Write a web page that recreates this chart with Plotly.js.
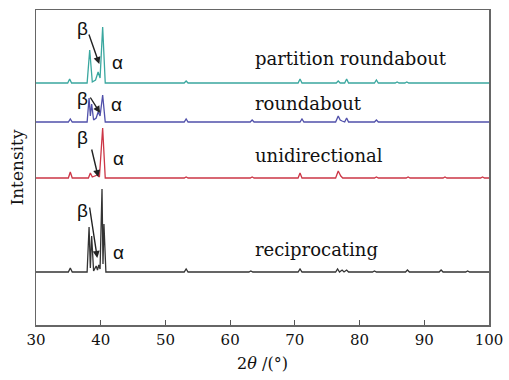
<!DOCTYPE html>
<html>
<head>
<meta charset="utf-8">
<script src="https://cdn.plot.ly/plotly-3.0.1.min.js"></script>
<style>html,body{margin:0;padding:0;background:#fff;}#chart{width:509px;height:380px;}</style>
</head>
<body>
<div id="chart"></div>
<script>
// Series names and vertical offsets (stacking baselines, arbitrary intensity units)
const seriesNames = ["partition roundabout", "roundabout", "unidirectional", "reciprocating"];
const seriesColors = ["#3aa79f", "#5050aa", "#cc3646", "#333333"];
const offsets = [242, 203, 147, 53];

// 2θ (degrees) and relative intensity
const xPartition = [30, 34.9, 35.2, 35.5, 37.9, 38.3, 38.7, 39.2, 39.6, 39.9, 40.3, 40.7, 52.9, 53.2, 53.5, 70.5, 70.8, 71.1, 76.4, 76.7, 77.0, 77.7, 78.0, 78.3, 82.3, 82.6, 82.9, 85.5, 85.8, 86.1, 87.0, 87.3, 87.6, 100];
const yPartition = [0, 0, 4, 0, 0, 33, 1, 3, 11, 5, 56, 0, 0, 2, 0, 0, 4, 0, 0, 2, 0, 0, 4, 0, 0, 3, 0, 0, 1, 0, 0, 1, 0, 0];

const xRoundabout = [30, 35.0, 35.3, 35.6, 37.9, 38.2, 38.4, 38.6, 38.9, 39.3, 39.6, 39.9, 40.3, 40.7, 52.9, 53.2, 53.5, 63.1, 63.4, 63.7, 70.8, 71.1, 71.4, 76.3, 76.7, 77.0, 77.3, 77.7, 78.0, 78.3, 82.3, 82.6, 82.9, 100];
const yRoundabout = [0, 0, 3, 0, 0, 24, 6, 18, 2, 4, 10, 6, 27, 0, 0, 3, 0, 0, 2, 0, 0, 3, 0, 0, 6, 2, 1, 0, 4, 0, 0, 2, 0, 0];

const xUnidirectional = [30, 35.0, 35.3, 35.6, 38.1, 38.4, 38.7, 39.2, 39.5, 39.8, 40.3, 40.7, 52.9, 53.2, 53.5, 63.1, 63.4, 63.7, 70.5, 70.8, 71.1, 76.3, 76.7, 77.1, 77.4, 82.3, 82.6, 82.9, 87.2, 87.5, 87.8, 92.9, 93.2, 93.5, 98.7, 99.0, 99.3, 100];
const yUnidirectional = [0, 0, 6, 0, 0, 5, 1, 2, 3, 1, 50, 0, 0, 1, 0, 0, 1, 0, 0, 5, 0, 0, 7, 2, 0, 0, 1, 0, 0, 1, 0, 0, 1, 0, 0, 1, 0, 0];

const xReciprocating = [30, 35.0, 35.3, 35.6, 37.9, 38.2, 38.4, 38.6, 38.9, 39.3, 39.5, 39.7, 39.9, 40.2, 40.35, 40.5, 40.8, 52.9, 53.2, 53.5, 62.9, 63.2, 63.5, 70.5, 70.8, 71.1, 76.3, 76.6, 76.9, 77.3, 77.6, 78.0, 78.3, 82.0, 82.3, 82.6, 87.1, 87.4, 87.7, 92.3, 92.6, 92.9, 96.4, 96.7, 97.0, 100];
const yReciprocating = [0, 0, 4, 0, 0, 45, 4, 36, 1, 6, 2, 7, 3, 83, 8, 48, 0, 0, 3, 0, 0, 1, 0, 0, 3, 0, 0, 3, 0, 2, 0, 2, 0, 0, 1, 0, 0, 2, 0, 0, 2, 0, 0, 1, 0, 0];

const xTickVals = [30, 40, 50, 60, 70, 80, 90, 100];

const xs = [xPartition, xRoundabout, xUnidirectional, xReciprocating];
const ys = [yPartition, yRoundabout, yUnidirectional, yReciprocating];

const traces = seriesNames.map((name, i) => ({
  type: 'scatter',
  mode: 'lines',
  name: name,
  x: xs[i],
  y: ys[i].map(v => v + offsets[i]),
  line: {color: seriesColors[i], width: 1.3},
  hoverinfo: 'x+name'
}));

const serif = 'DejaVu Serif, Liberation Serif, serif';
const sans = 'Liberation Sans, Arial, sans-serif';

// label y positions (data units) and arrows
const labelY = [267, 222, 170, 76];
const betaY = [297, 227, 188, 115];
const alphaX = [42.6, 42.4, 42.7, 42.7];
const alphaY = [263, 221, 167, 73];
const arrowTail = [[38.1, 292], [38.25, 229], [38.55, 177], [38.25, 119]];
const arrowHead = [[39.78, 261], [39.9, 212], [39.62, 148], [39.47, 67]];

const annotations = [];
seriesNames.forEach((name, i) => {
  annotations.push({x: 63.6, y: labelY[i], xref: 'x', yref: 'y', text: name, showarrow: false,
    xanchor: 'left', yanchor: 'middle', font: {family: serif, size: 18, color: '#111'}});
  annotations.push({x: 37.2, y: betaY[i], xref: 'x', yref: 'y', text: 'β', showarrow: false,
    xanchor: 'center', yanchor: 'middle', font: {family: sans, size: 19, color: '#111'}});
  annotations.push({x: alphaX[i], y: alphaY[i], xref: 'x', yref: 'y', text: 'α', showarrow: false,
    xanchor: 'center', yanchor: 'middle', font: {family: sans, size: 19, color: '#111'}});
  annotations.push({x: arrowHead[i][0], y: arrowHead[i][1], xref: 'x', yref: 'y',
    ax: arrowTail[i][0], ay: arrowTail[i][1], axref: 'x', ayref: 'y', text: '',
    showarrow: true, arrowhead: 2, arrowsize: 1, arrowwidth: 1.4, arrowcolor: '#222', standoff: 0});
});

const layout = {
  width: 509, height: 380,
  margin: {l: 36, r: 20, t: 10, b: 55},
  paper_bgcolor: '#fff', plot_bgcolor: '#fff',
  showlegend: false,
  xaxis: {
    range: [30, 100], tickvals: xTickVals, ticktext: xTickVals.map(String),
    ticks: 'inside', ticklen: 5, tickwidth: 1, tickcolor: '#555',
    showline: true, linecolor: '#666', linewidth: 1.5, mirror: true,
    showgrid: false, zeroline: false,
    tickfont: {family: serif, size: 15, color: '#111'},
    title: {text: '2<i>θ</i> /(°)', font: {family: serif, size: 16, color: '#111'}, standoff: 10}
  },
  yaxis: {
    range: [0, 315], showticklabels: false, ticks: '',
    showline: true, linecolor: '#666', linewidth: 1.5, mirror: true,
    showgrid: false, zeroline: false,
    title: {text: 'Intensity', font: {family: serif, size: 17, color: '#111'}, standoff: 6}
  },
  annotations: annotations
};

Plotly.newPlot('chart', traces, layout, {displayModeBar: false, staticPlot: true});
</script>
</body>
</html>
